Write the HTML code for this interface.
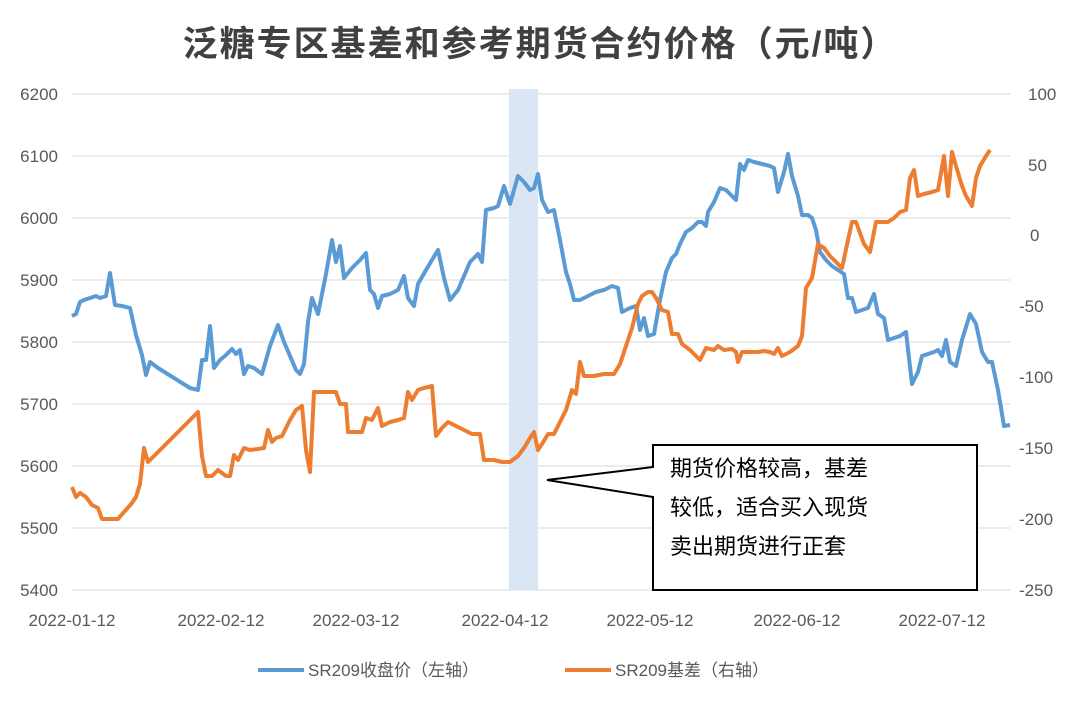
<!DOCTYPE html>
<html><head><meta charset="utf-8"><style>
body{margin:0;background:#fff;}
text{font-family:"Liberation Sans","Noto Sans CJK SC",sans-serif;}
</style></head><body>
<svg width="1080" height="700" xmlns="http://www.w3.org/2000/svg">
<rect width="1080" height="700" fill="#fff"/>
<text x="540" y="56" text-anchor="middle" font-size="35" font-weight="bold" fill="#404040" font-family="'Noto Serif CJK SC','Noto Sans CJK SC',serif" letter-spacing="2">泛糖专区基差和参考期货合约价格（元/吨）</text>
<g stroke="#d9d9d9" stroke-width="1">
<line x1="72" y1="94" x2="1010" y2="94"/><line x1="72" y1="156" x2="1010" y2="156"/><line x1="72" y1="218" x2="1010" y2="218"/><line x1="72" y1="280" x2="1010" y2="280"/><line x1="72" y1="342" x2="1010" y2="342"/><line x1="72" y1="404" x2="1010" y2="404"/><line x1="72" y1="466" x2="1010" y2="466"/><line x1="72" y1="528" x2="1010" y2="528"/><line x1="72" y1="590" x2="1010" y2="590"/>
</g>
<rect x="509" y="89" width="29" height="501" fill="#dae6f3"/>
<g font-size="17" fill="#595959" text-anchor="end">
<text x="58" y="100">6200</text><text x="58" y="162">6100</text><text x="58" y="224">6000</text><text x="58" y="286">5900</text><text x="58" y="348">5800</text><text x="58" y="410">5700</text><text x="58" y="472">5600</text><text x="58" y="534">5500</text><text x="58" y="596">5400</text>
</g>
<g font-size="17" fill="#595959">
<text x="1028" y="100">100</text><text x="1028" y="171">50</text><text x="1030" y="241">0</text><text x="1019" y="312">-50</text><text x="1019" y="383">-100</text><text x="1019" y="454">-150</text><text x="1019" y="525">-200</text><text x="1019" y="596">-250</text>
</g>
<g font-size="17" fill="#595959" text-anchor="middle">
<text x="72" y="626">2022-01-12</text><text x="221" y="626">2022-02-12</text><text x="356" y="626">2022-03-12</text><text x="505" y="626">2022-04-12</text><text x="650" y="626">2022-05-12</text><text x="797" y="626">2022-06-12</text><text x="942" y="626">2022-07-12</text>
</g>
<polyline fill="none" stroke="#5b9bd5" stroke-width="4" stroke-linejoin="round" points="72,316 76,314 80,302 84,300 90,298 96,296 100,298 106,296 110,273 115,305 122,306 130,308 136,335 142,355 146,375 150,362 158,368 166,373 174,378 182,383 190,388 198,390 202,360 206,360 210,326 214,368 220,360 226,355 232,349 236,354 240,350 244,374 248,366 254,368 262,374 270,346 278,325 284,342 290,356 296,370 300,374 304,364 308,322 312,298 318,314 326,274 332,240 336,262 340,246 344,278 352,268 360,260 366,253 370,290 374,294 378,308 382,296 390,294 398,290 404,276 408,298 414,306 418,284 426,270 432,260 438,250 444,278 450,300 458,290 464,276 470,262 478,254 482,262 486,210 494,208 498,206 504,186 510,204 518,176 524,182 530,190 534,188 538,174 542,200 548,212 554,210 560,240 566,272 570,284 574,300 580,300 588,296 596,292 604,290 612,286 618,288 622,312 630,308 636,306 640,330 644,318 648,336 654,334 660,300 666,272 672,258 676,254 680,244 686,232 692,228 698,222 702,222 706,226 708,212 714,202 720,188 726,190 732,196 736,200 740,164 744,170 748,160 754,162 762,164 770,166 774,168 778,192 784,172 788,154 792,176 798,196 802,215 808,215 812,218 816,230 820,252 826,260 832,266 838,270 844,274 848,298 852,298 856,312 862,310 868,308 874,294 878,314 884,318 888,340 894,338 900,336 906,332 912,384 918,372 922,356 928,354 934,352 938,350 942,356 946,340 950,362 956,366 962,340 970,314 976,324 982,352 988,362 992,362 998,390 1004,426 1010,425"/>
<polyline fill="none" stroke="#ed7d31" stroke-width="4" stroke-linejoin="round" points="72,487 76,497 80,493 86,497 92,505 98,508 102,519 110,519 118,519 124,512 132,503 136,497 140,484 144,448 148,462 156,454 164,446 172,438 180,430 188,422 196,414 198,412 202,456 206,476 212,476 218,470 226,476 230,476 234,455 238,460 244,448 250,450 258,449 264,448 268,430 272,442 276,438 282,436 290,420 296,410 302,406 306,450 310,472 314,392 320,392 330,392 336,392 340,404 346,404 348,432 356,432 362,432 366,418 372,420 378,408 382,426 390,422 398,420 404,418 408,392 412,400 418,390 424,388 432,386 436,436 442,428 448,422 456,426 464,430 472,434 480,434 484,460 494,460 502,462 510,462 518,456 524,448 530,438 534,432 538,450 542,444 548,434 554,434 560,422 566,410 572,390 576,394 580,362 584,376 594,376 604,374 614,374 620,364 626,346 632,328 638,304 642,296 648,292 652,292 656,298 662,310 668,312 672,334 678,334 682,344 690,350 700,360 706,348 714,350 718,346 724,350 732,349 736,352 738,362 742,352 750,352 758,352 764,351 770,352 774,354 778,348 782,356 790,352 798,346 802,336 806,288 812,278 818,244 824,248 830,256 836,262 842,268 848,240 852,222 856,222 864,244 870,252 876,222 882,222 888,222 894,218 900,212 906,210 910,178 914,170 918,196 924,194 932,192 938,190 944,156 948,196 952,152 956,166 962,186 966,196 972,206 976,178 980,166 986,156 990,150"/>
<path d="M653,445 H977 V590 H653 V497 L547,480 L653,467 Z" fill="#fff" stroke="#000" stroke-width="2"/>
<g font-size="22" fill="#000">
<text x="670" y="476">期货价格较高，基差</text><text x="670" y="515">较低，适合买入现货</text><text x="670" y="554">卖出期货进行正套</text>
</g>
<line x1="258" y1="670" x2="304" y2="670" stroke="#5b9bd5" stroke-width="4"/>
<text x="308" y="676" font-size="17" fill="#595959">SR209收盘价（左轴）</text>
<line x1="565" y1="670" x2="611" y2="670" stroke="#ed7d31" stroke-width="4"/>
<text x="615" y="676" font-size="17" fill="#595959">SR209基差（右轴）</text>
</svg>
</body></html>
